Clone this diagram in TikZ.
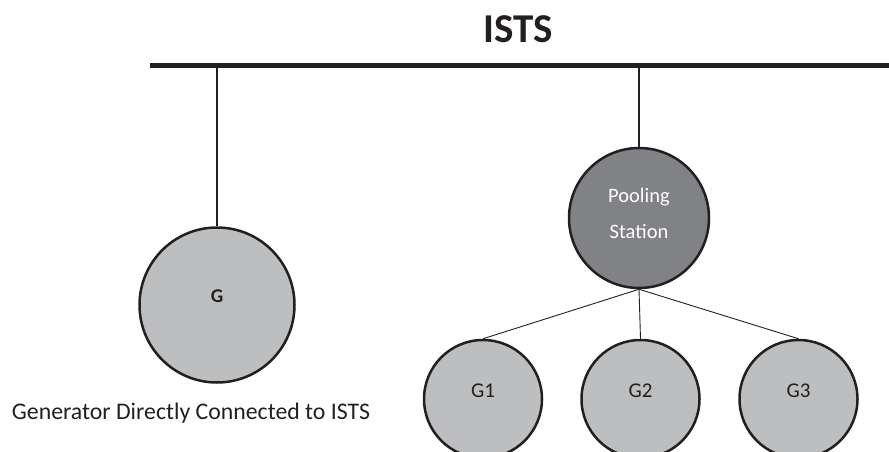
\documentclass[tikz,border=0pt]{standalone}
\usepackage{fontspec}
\setmainfont{Carlito}
\definecolor{ink}{HTML}{231F20}
\definecolor{genfill}{HTML}{BCBEC0}
\definecolor{poolfill}{HTML}{808285}
\begin{document}
\begin{tikzpicture}[x=1pt,y=-1pt,
  gen/.style={circle,draw=ink,line width=2.5pt,fill=genfill,inner sep=0pt},
  feeder/.style={draw=ink,line width=2.7pt},
  branch/.style={draw=ink,line width=0.9pt},
  lbl/.style={text=ink,inner sep=0pt}]
\useasboundingbox (0,0) rectangle (889,452);
\node[lbl,font=\fontsize{41}{44}\selectfont\bfseries] (title) at (518.5,29) {ISTS};
\coordinate (busL) at (150,65.5);
\coordinate (busR) at (889,65.5);
\draw[ink,line width=5pt] (busL) -- (busR);
\node[gen,minimum size=155pt] (G) at (217,305) {};
\node[lbl,font=\fontsize{19.5}{20}\selectfont\bfseries] (Gt) at (217,296) {G};
\node[gen,fill=poolfill,minimum size=140pt] (pool) at (639,218) {};
\node[lbl,text=white,align=center,font=\fontsize{20.5}{36}\selectfont] (poolt) at (639,213) {Pooling\\Station};
\node[gen,minimum size=118pt] (G1) at (483,399) {};
\node[gen,minimum size=118pt] (G2) at (640.5,399) {};
\node[gen,minimum size=118pt] (G3) at (798.5,399) {};
\node[lbl,font=\fontsize{21}{22}\selectfont] (G1t) at (483,391) {G1};
\node[lbl,font=\fontsize{21}{22}\selectfont] (G2t) at (640.5,391) {G2};
\node[lbl,font=\fontsize{21}{22}\selectfont] (G3t) at (798.5,391) {G3};
\node[lbl,font=\fontsize{23.8}{26}\selectfont] (gdesc) at (191,413) {Generator Directly Connected to ISTS};
\draw[feeder] (G.north) -- (G.north |- busL);
\draw[feeder] (pool.north) -- (pool.north |- busL);
\draw[branch] (pool.south) -- (G1.north);
\draw[branch] (pool.south) -- (G2.north);
\draw[branch] (pool.south) -- (G3.north);
\end{tikzpicture}
\end{document}
